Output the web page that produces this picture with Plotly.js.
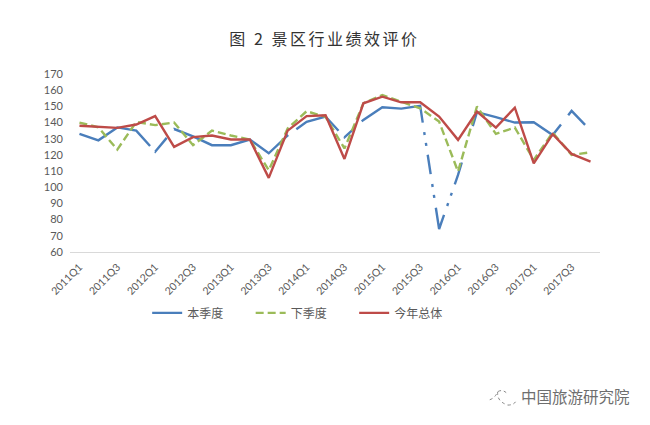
<!DOCTYPE html>
<html>
<head>
<meta charset="utf-8">
<script src="https://cdn.plot.ly/plotly-3.0.1.min.js"></script>
<style>
html,body{margin:0;padding:0;background:#fff}
.gtitle{letter-spacing:2.5px}
</style>
</head>
<body>
<div id="chart" style="width:650px;height:425px"></div>
<script>
var categories = ['2011Q1','2011Q2','2011Q3','2011Q4','2012Q1','2012Q2','2012Q3','2012Q4','2013Q1','2013Q2','2013Q3','2013Q4','2014Q1','2014Q2','2014Q3','2014Q4','2015Q1','2015Q2','2015Q3','2015Q4','2016Q1','2016Q2','2016Q3','2016Q4','2017Q1','2017Q2','2017Q3','2017Q4'];
var tickLabels = ['2011Q1','2011Q3','2012Q1','2012Q3','2013Q1','2013Q3','2014Q1','2014Q3','2015Q1','2015Q3','2016Q1','2016Q3','2017Q1','2017Q3'];
var thisQuarter = [133,129,137,135,122,136,131.5,126,126,129.5,121,132,140.5,143.7,130.9,141.6,149.4,148.6,150.3,74.2,107.6,146.4,143.3,140,140.2,132.3,147.2,135];
var nextQuarter = [140,137,123.3,140.4,138.4,140,126,135,132,129.5,110.5,136.3,147,143.5,124,151.9,157,153,148.8,140.6,109.7,149.9,133,136.9,116.9,133.8,120,121.6];
var yearOverall = [138,137.3,136.7,138.8,144,125,131,132,129.5,129.5,105.8,135,144,144.5,117.5,151.9,156,152.5,152.5,143.7,129.3,146.8,136.9,149.2,114.8,132.8,120.6,115.9];
var blueDash = [82.8,7.6,18,11.5,130,10,51.6,8.4,12.6,11.2,80,9.6,3,8,3,9,19.6,10,3,8,3,10,36.4,9.5,3,8,3,9,22.9,38,109,11.7,25,30];

var tickFont = {family:'Lato, "Noto Sans CJK SC", sans-serif', size:11, color:'#595959'};
var data = [
  {x:categories, y:thisQuarter, name:'本季度', type:'scatter', mode:'lines',
   line:{color:'#4a7ebb', width:2.4, dash:blueDash.map(function(d){return d+'px';}).join(',')}},
  {x:categories, y:nextQuarter, name:'下季度', type:'scatter', mode:'lines',
   line:{color:'#9bbb59', width:2.4, dash:'8px,4px'}},
  {x:categories, y:yearOverall, name:'今年总体', type:'scatter', mode:'lines',
   line:{color:'#be4b48', width:2.4}}
];
var layout = {
  width:650, height:425,
  margin:{l:70, r:50, t:74, b:173, pad:0},
  paper_bgcolor:'#fff', plot_bgcolor:'#fff',
  title:{text:'图 2 景区行业绩效评价', x:0.48, xref:'paper', xanchor:'center', y:0.908, yref:'container', yanchor:'middle',
         font:{family:'"Noto Sans CJK SC", sans-serif', size:16, color:'#333'}},
  xaxis:{type:'category', range:[-0.5,27.5], tickmode:'array', tickvals:tickLabels, ticktext:tickLabels,
         tickangle:-45, ticklabelstandoff:4, tickfont:{family:tickFont.family,size:10.5,color:'#595959'}, showgrid:false, showline:true, linecolor:'#d9d9d9', linewidth:1, ticks:'', zeroline:false},
  yaxis:{range:[60,170], dtick:10, ticklabelstandoff:6, tickfont:tickFont, showgrid:false, showline:false, ticks:'', zeroline:false},
  showlegend:true,
  legend:{orientation:'h', x:0.1456, xanchor:'left', y:-0.342, yanchor:'middle', entrywidth:58.5, entrywidthmode:'pixels', itemwidth:30, traceorder:'normal',
          font:{family:'"Noto Sans CJK SC", sans-serif', size:12, color:'#595959'}, bgcolor:'rgba(0,0,0,0)'},
  annotations:[{text:'中国旅游研究院', xref:'paper', yref:'paper', x:0.847, y:-0.81, xanchor:'left', yanchor:'middle', showarrow:false,
                font:{family:'"Noto Sans CJK SC", sans-serif', size:15.5, color:'#6e6e6e'}}],
  shapes:[
    {type:'path', xref:'paper', yref:'paper', line:{color:'#888', width:1, dash:'dot'},
     path:'M 0.792 -0.83 Q 0.802 -0.82 0.807 -0.785 Q 0.815 -0.77 0.823 -0.79 M 0.807 -0.785 Q 0.805 -0.84 0.826 -0.86 Q 0.84 -0.86 0.842 -0.83'}
  ]
};
Plotly.newPlot('chart', data, layout, {displayModeBar:false, staticPlot:true});
</script>
</body>
</html>
